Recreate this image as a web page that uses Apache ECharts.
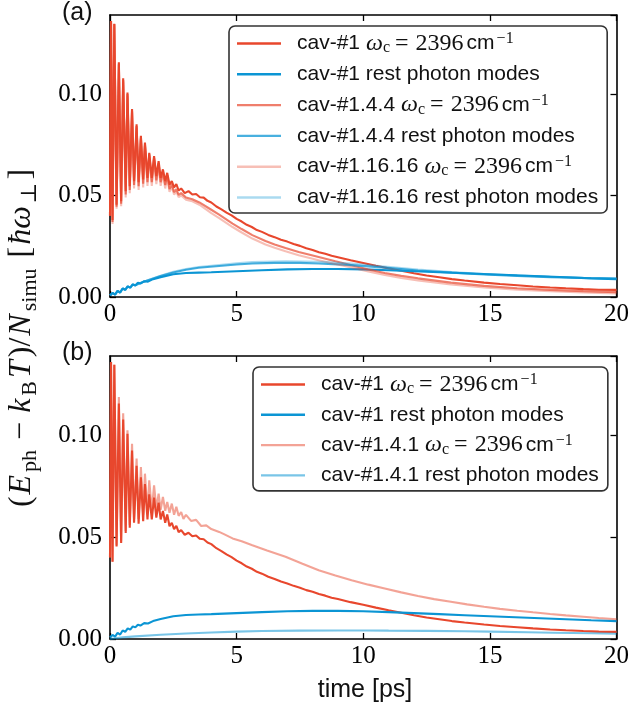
<!DOCTYPE html>
<html>
<head>
<meta charset="utf-8">
<script src="https://cdn.jsdelivr.net/npm/echarts@6/dist/echarts.min.js"></script>
<style>
html,body{margin:0;padding:0;background:#fff;}
#chart{width:632px;height:706px;}
</style>
</head>
<body>
<div id="chart"></div>
<script>
// ---------- data (time [ps], energy [ħω⊥]) ----------
const xTicks = [0, 5, 10, 15, 20];
const yTicks = [0.00, 0.05, 0.10];

const cav1Cavity = [
[0,0.040],[0.04,0.136],[0.10,0.038],[0.17,0.1347],[0.26,0.0455],[0.35,0.1157],[0.44,0.0472],[0.52,0.1078],[0.62,0.0521],[0.69,0.1008],[0.78,0.0546],[0.87,0.0926],[0.95,0.0571],[1.05,0.0851],[1.13,0.0566],[1.22,0.0794],[1.31,0.0579],[1.38,0.0761],[1.48,0.0587],[1.55,0.0711],[1.65,0.0587],[1.74,0.0695],[1.83,0.0596],[1.92,0.0670],[2.00,0.0587],[2.09,0.0629],[2.18,0.0571],[2.26,0.0612],[2.35,0.0554],[2.44,0.0571],[2.53,0.0540],[2.62,0.0556],[2.71,0.0525],[2.81,0.0535],[2.95,0.0512],[3.10,0.0522],[3.25,0.0505],[3.40,0.0508],[3.55,0.0492],[3.70,0.0490],[3.85,0.0474],[4.00,0.0466],[4.20,0.0446],[4.40,0.0432],[4.60,0.0416],[4.80,0.0402],[5.00,0.0385],[5.20,0.0372],[5.40,0.0356],[5.60,0.0345],[5.80,0.0330],[6.00,0.0321],[6.25,0.0306],[6.50,0.0295],[6.75,0.0282],[7.00,0.0273],[7.25,0.0261],[7.50,0.0252],[7.75,0.0240],[8.00,0.0232],[8.25,0.0221],[8.50,0.0213],[8.75,0.0203],[9.00,0.0196],[9.50,0.0181],[10.00,0.0168],[10.50,0.0154],[11.00,0.0141],[11.50,0.0129],[12.00,0.0117],[12.50,0.0106],[13.00,0.0097],[13.50,0.0088],[14.00,0.0081],[14.77,0.0071],[15.40,0.0064],[16.08,0.0058],[16.70,0.0052],[17.38,0.0047],[18.00,0.0043],[18.69,0.0039],[19.30,0.0036],[20.00,0.0035]
];
const cav1Rest = [
[0,0.0008],[0.1,0.0020],[0.2,0.0012],[0.3,0.0030],[0.4,0.0022],[0.5,0.0042],[0.6,0.0035],[0.7,0.0052],[0.8,0.0046],[0.9,0.0062],[1.0,0.0057],[1.1,0.0070],[1.2,0.0066],[1.35,0.0078],[1.5,0.0076],[1.7,0.0088],[2.0,0.0098],[2.5,0.0112],[3.0,0.0118],[3.5,0.0120],[4.0,0.0122],[5.0,0.0127],[6.0,0.0132],[7.0,0.0136],[8.0,0.0138],[9.0,0.0138],[10.0,0.0136],[11.0,0.0132],[12.0,0.0127],[13.0,0.0122],[14.0,0.0117],[15.0,0.0112],[16.0,0.0107],[17.0,0.0102],[18.0,0.0097],[19.0,0.0092],[20.0,0.0088]
];
const cav144Cavity = [
[0,0.040],[0.04,0.136],[0.10,0.037],[0.17,0.1345],[0.26,0.0445],[0.35,0.1150],[0.44,0.0460],[0.52,0.1070],[0.62,0.0505],[0.69,0.1000],[0.78,0.0528],[0.87,0.0918],[0.95,0.0552],[1.05,0.0843],[1.13,0.0546],[1.22,0.0786],[1.31,0.0558],[1.38,0.0752],[1.48,0.0566],[1.55,0.0703],[1.65,0.0566],[1.74,0.0686],[1.83,0.0575],[1.92,0.0660],[2.00,0.0566],[2.09,0.0618],[2.18,0.0552],[2.26,0.0600],[2.35,0.0532],[2.44,0.0555],[2.53,0.0517],[2.62,0.0532],[2.71,0.0503],[2.81,0.0512],[3.00,0.0490],[3.25,0.0482],[3.53,0.0466],[4.00,0.0430],[4.31,0.0406],[4.84,0.0362],[5.20,0.0335],[5.62,0.0305],[6.14,0.0276],[6.50,0.0259],[6.93,0.0241],[7.45,0.0222],[8.24,0.0197],[8.90,0.0176],[9.54,0.0157],[10.20,0.0136],[10.85,0.0118],[11.50,0.0104],[12.16,0.0092],[13.46,0.0071],[14.77,0.0055],[16.08,0.0043],[17.38,0.0035],[18.69,0.0029],[20.00,0.0024]
];
const cav144Rest = [
[0,0.0008],[0.1,0.0020],[0.2,0.0012],[0.3,0.0030],[0.4,0.0022],[0.5,0.0042],[0.6,0.0035],[0.7,0.0052],[0.8,0.0046],[0.9,0.0062],[1.0,0.0058],[1.2,0.0069],[1.5,0.0082],[2.0,0.0103],[2.5,0.0121],[3.0,0.0134],[3.5,0.0144],[4.31,0.0153],[5.0,0.0160],[5.62,0.0165],[6.5,0.0168],[7.5,0.0168],[8.24,0.0165],[9.54,0.0157],[10.85,0.0145],[12.16,0.0131],[13.5,0.0120],[14.77,0.0111],[16.08,0.0104],[17.38,0.0098],[18.69,0.0094],[20.0,0.0091]
];
const cav11616Cavity = [
[0,0.040],[0.04,0.135],[0.10,0.036],[0.17,0.1340],[0.26,0.0435],[0.35,0.1145],[0.44,0.0448],[0.52,0.1062],[0.62,0.0490],[0.69,0.0992],[0.78,0.0512],[0.87,0.0910],[0.95,0.0535],[1.05,0.0835],[1.13,0.0528],[1.22,0.0778],[1.31,0.0540],[1.38,0.0744],[1.48,0.0548],[1.55,0.0695],[1.65,0.0548],[1.74,0.0676],[1.83,0.0556],[1.92,0.0650],[2.00,0.0548],[2.09,0.0607],[2.18,0.0535],[2.26,0.0590],[2.35,0.0518],[2.44,0.0543],[2.53,0.0505],[2.62,0.0520],[2.71,0.0492],[2.81,0.0500],[3.00,0.0480],[3.25,0.0472],[3.53,0.0455],[4.00,0.0413],[4.31,0.0389],[4.84,0.0345],[5.20,0.0318],[5.62,0.0288],[6.14,0.0259],[6.50,0.0243],[6.93,0.0225],[7.45,0.0206],[8.24,0.0181],[8.90,0.0163],[9.54,0.0146],[10.20,0.0126],[10.85,0.0109],[11.50,0.0094],[12.16,0.0082],[13.46,0.0062],[14.77,0.0047],[16.08,0.0036],[17.38,0.0028],[18.69,0.0022],[20.00,0.0017]
];
const cav11616Rest = [
[0,0.0008],[0.1,0.0020],[0.2,0.0012],[0.3,0.0030],[0.4,0.0022],[0.5,0.0042],[0.6,0.0035],[0.7,0.0052],[0.8,0.0046],[0.9,0.0062],[1.0,0.0058],[1.2,0.0069],[1.5,0.0083],[2.0,0.0105],[2.5,0.0124],[3.0,0.0138],[3.5,0.0148],[4.31,0.0158],[5.0,0.0166],[5.62,0.0172],[6.93,0.0176],[8.24,0.0174],[9.54,0.0165],[10.85,0.0150],[12.16,0.0135],[13.5,0.0123],[14.77,0.0113],[16.08,0.0106],[17.38,0.0100],[18.69,0.0095],[20.0,0.0092]
];
const cav141Cavity = [
[0,0.040],[0.04,0.136],[0.10,0.038],[0.17,0.1347],[0.26,0.0460],[0.35,0.1188],[0.44,0.0480],[0.52,0.1109],[0.62,0.0530],[0.69,0.1025],[0.78,0.0560],[0.87,0.0959],[0.95,0.0590],[1.05,0.0886],[1.13,0.0590],[1.22,0.0845],[1.31,0.0610],[1.38,0.0812],[1.48,0.0620],[1.55,0.0779],[1.65,0.0630],[1.74,0.0755],[1.83,0.0640],[1.92,0.0714],[2.00,0.0635],[2.09,0.0698],[2.18,0.0630],[2.26,0.0673],[2.35,0.0620],[2.44,0.0665],[2.53,0.0610],[2.62,0.0649],[2.71,0.0605],[2.81,0.0624],[2.90,0.0590],[3.00,0.0610],[3.20,0.0580],[3.40,0.0585],[3.60,0.0555],[3.80,0.0558],[4.00,0.0540],[4.31,0.0526],[4.50,0.0515],[4.84,0.0494],[5.20,0.0480],[5.62,0.0461],[6.20,0.0435],[6.93,0.0404],[7.60,0.0370],[8.24,0.0338],[8.90,0.0312],[9.54,0.0289],[10.20,0.0267],[10.85,0.0248],[11.50,0.0229],[12.16,0.0211],[12.80,0.0196],[13.46,0.0183],[14.10,0.0170],[14.77,0.0158],[15.40,0.0148],[16.08,0.0139],[16.70,0.0131],[17.38,0.0123],[18.00,0.0116],[18.69,0.0109],[19.30,0.0103],[20.00,0.0097]
];
const cav141Rest = [
[0,0.0000],[0.5,0.0008],[1.0,0.0013],[2.0,0.0021],[3.0,0.0027],[4.0,0.0032],[5.0,0.0036],[6.0,0.0039],[7.5,0.0041],[9.0,0.0042],[10.0,0.0042],[11.0,0.0041],[12.5,0.0040],[14.0,0.0038],[15.0,0.0036],[16.5,0.0033],[17.5,0.0031],[19.0,0.0028],[20.0,0.0026]
];

const namesTop = ['cav1W', 'cav1R', 'cav144W', 'cav144R', 'cav11616W', 'cav11616R'];
const namesBottom = ['cav1W', 'cav1R', 'cav141W', 'cav141R'];
const wcTail = '{m|ω}{s|c}{q|=}{n|2396}{u|cm}{p|−1}';
const legendText = {
  cav1W: '{t|cav-#1}' + wcTail,
  cav1R: '{t|cav-#1 rest photon modes}',
  cav144W: '{t|cav-#1.4.4}' + wcTail,
  cav144R: '{t|cav-#1.4.4 rest photon modes}',
  cav11616W: '{t|cav-#1.16.16}' + wcTail,
  cav11616R: '{t|cav-#1.16.16 rest photon modes}',
  cav141W: '{t|cav-#1.4.1}' + wcTail,
  cav141R: '{t|cav-#1.4.1 rest photon modes}'
};
const colors = {
  cav1W: 'rgb(232,71,45)', cav1R: 'rgb(11,149,212)',
  cav144W: 'rgba(232,71,45,0.7)', cav144R: 'rgba(11,149,212,0.75)',
  cav11616W: 'rgba(232,71,45,0.35)', cav11616R: 'rgba(11,149,212,0.35)',
  cav141W: 'rgba(232,71,45,0.5)', cav141R: 'rgba(11,149,212,0.55)'
};

const SERIF = "'Liberation Serif','DejaVu Serif',serif";
const SANS = "'Liberation Sans','DejaVu Sans',sans-serif";

const chart = echarts.init(document.getElementById('chart'), null, {renderer: 'canvas'});

const grids = [
  {left: 110, top: 15, width: 510, height: 282},
  {left: 110, top: 356, width: 510, height: 283}
];

function xAx(gi, pos, labels) {
  return {
    type: 'value', gridIndex: gi, position: pos, min: xTicks[0], max: xTicks[xTicks.length - 1], interval: 5,
    axisLine: {show: true, onZero: false, lineStyle: {color: '#000', width: 1.6}},
    axisTick: {show: true, inside: true, length: 6, lineStyle: {color: '#000', width: 1.3}},
    axisLabel: {show: labels, color: '#000', fontFamily: SERIF, fontSize: 25, margin: 5},
    splitLine: {show: false}
  };
}
function yAx(gi, pos, labels) {
  return {
    type: 'value', gridIndex: gi, position: pos, min: 0, max: 0.139, interval: 0.05,
    axisLine: {show: true, onZero: false, lineStyle: {color: '#000', width: 1.6}},
    axisTick: {show: true, inside: true, length: 6, lineStyle: {color: '#000', width: 1.3}},
    axisLabel: {show: labels, color: '#000', fontFamily: SERIF, fontSize: 25, margin: 8,
      showMaxLabel: false,
      formatter: function (v) {
        for (const t of yTicks) { if (Math.abs(v - t) < 1e-9) return t.toFixed(2); }
        return '';
      }},
    splitLine: {show: false}
  };
}

function mkSeries(name, data, gi) {
  return {
    name: name, type: 'line', data: data, xAxisIndex: gi * 2, yAxisIndex: gi * 2,
    showSymbol: false, symbol: 'none', smooth: false,
    lineStyle: {color: colors[name], width: 2.1}, itemStyle: {color: colors[name]},
    animation: false, emphasis: {disabled: true}
  };
}

const richLegend = {
  t: {fontFamily: SANS, fontSize: 21, color: '#111', lineHeight: 25, padding: [0, 0, 0, 11]},
  m: {fontFamily: SERIF, fontStyle: 'italic', fontSize: 24, color: '#111', lineHeight: 25, padding: [0, 0, 0, 6]},
  s: {fontFamily: SERIF, fontSize: 16, color: '#111', verticalAlign: 'bottom', lineHeight: 25},
  q: {fontFamily: SERIF, fontSize: 24, color: '#111', lineHeight: 25, padding: [0, 0, 0, 5]},
  n: {fontFamily: SERIF, fontSize: 24, color: '#111', lineHeight: 25, padding: [0, 0, 0, 7]},
  u: {fontFamily: SANS, fontSize: 21, color: '#111', lineHeight: 25, padding: [0, 0, 0, 3]},
  p: {fontFamily: SERIF, fontSize: 16, color: '#111', verticalAlign: 'top', lineHeight: 25, padding: [0, 0, 0, 2]}
};

function mkLegend(names, left, top, gap) {
  return {
    show: true, orient: 'vertical', left: left, top: top,
    data: names.map(n => ({name: n, icon: 'rect', itemStyle: {color: colors[n]}})),
    itemWidth: 44, itemHeight: 2.4, itemGap: gap,
    padding: [5, 9, 5, 8],
    backgroundColor: '#fff', borderColor: '#333', borderWidth: 1.6, borderRadius: 6,
    selectedMode: false,
    formatter: function (n) { return legendText[n]; },
    textStyle: {rich: richLegend, color: '#111'}
  };
}

const yLabelRich = {
  r: {fontFamily: SERIF, fontSize: 32, color: '#111', lineHeight: 38, padding: [0, 1, 0, 1]},
  o: {fontFamily: SERIF, fontSize: 32, color: '#111', lineHeight: 38, padding: [0, 8, 0, 8]},
  i: {fontFamily: SERIF, fontStyle: 'italic', fontSize: 32, color: '#111', lineHeight: 38, padding: [0, 2, 0, 1]},
  s: {fontFamily: SERIF, fontSize: 22, color: '#111', verticalAlign: 'bottom', lineHeight: 38, padding: [0, 2, 0, 1]}
};

const option = {
  backgroundColor: '#fff',
  animation: false,
  grid: grids.map(g => Object.assign({show: false, containLabel: false}, g)),
  xAxis: [xAx(0, 'bottom', true), xAx(0, 'top', false), xAx(1, 'bottom', true), xAx(1, 'top', false)],
  yAxis: [yAx(0, 'left', true), yAx(0, 'right', false), yAx(1, 'left', true), yAx(1, 'right', false)],
  legend: [mkLegend(namesTop, 229, 26, 7.8), mkLegend(namesBottom, 253, 367, 7.3)],
  series: [
    mkSeries('cav1W', cav1Cavity, 0),
    mkSeries('cav1R', cav1Rest, 0),
    mkSeries('cav144W', cav144Cavity, 0),
    mkSeries('cav144R', cav144Rest, 0),
    mkSeries('cav11616W', cav11616Cavity, 0),
    mkSeries('cav11616R', cav11616Rest, 0),
    mkSeries('cav1W', cav1Cavity, 1),
    mkSeries('cav1R', cav1Rest, 1),
    mkSeries('cav141W', cav141Cavity, 1),
    mkSeries('cav141R', cav141Rest, 1)
  ],
  graphic: [
    {type: 'text', left: 62, top: 1, style: {text: '(a)', font: "25px 'Liberation Sans'", fill: '#111'}},
    {type: 'text', left: 62, top: 341, style: {text: '(b)', font: "25px 'Liberation Sans'", fill: '#111'}},
    {type: 'text', x: 365, y: 690, style: {text: 'time [ps]', font: "25px 'Liberation Sans'", fill: '#111', align: 'center', verticalAlign: 'middle'}},
    {type: 'text', x: 22, y: 338, rotation: Math.PI / 2,
      style: {
        text: '{r|(}{i|E}{s|ph}{o|−}{i|k}{s|B}{i|T}{r|)/}{i|N}{s|simu}{r| [}{i|ħω}{s|⊥}{r|]}',
        rich: yLabelRich, align: 'center', verticalAlign: 'middle', fill: '#111'
      }}
  ]
};
chart.setOption(option);
</script>
</body>
</html>
